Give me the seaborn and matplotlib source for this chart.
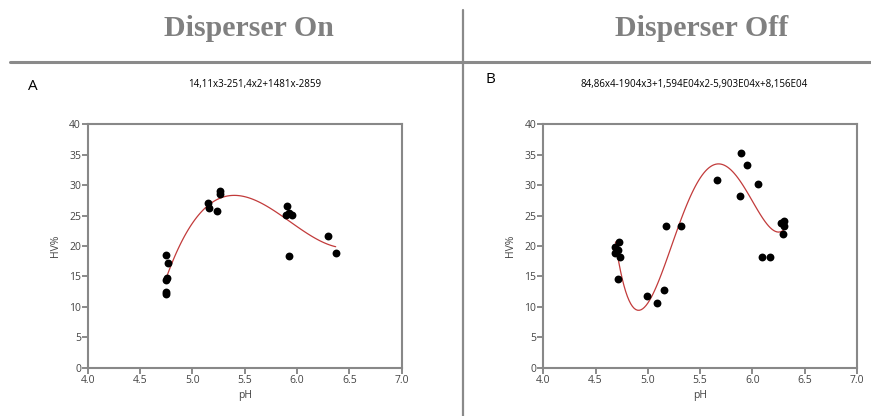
import numpy as np
import pandas as pd
import matplotlib
matplotlib.use("Agg")
import matplotlib.pyplot as plt
import seaborn as sns

# ---- data ----
ph_on = [4.745, 4.77, 4.75, 4.76, 4.745, 4.745, 5.146, 5.16, 5.235, 5.265, 5.265,
         5.90, 5.89, 5.92, 5.95, 5.92, 6.30, 6.37]
hv_on = [18.5, 17.2, 14.5, 14.7, 12.5, 12.2, 27.1, 26.3, 25.75, 29.0, 28.6,
         26.5, 25.1, 25.4, 25.1, 18.4, 21.7, 18.8]

ph_off = [4.69, 4.69, 4.725, 4.71, 4.735, 4.715, 4.993, 5.085, 5.152, 5.175, 5.315,
          5.666, 5.886, 5.893, 5.944, 6.05, 6.09, 6.164, 6.27, 6.30, 6.30, 6.29]
hv_off = [19.9, 18.9, 20.6, 19.3, 18.2, 14.6, 11.8, 10.7, 12.8, 23.2, 23.2,
          30.8, 28.2, 35.2, 33.3, 30.2, 18.2, 18.2, 23.8, 24.1, 23.3, 22.0]

headers = ["Disperser On", "Disperser Off"]
panel_labels = ["A", "B"]
equations = ["14,11x3-251,4x2+1481x-2859",
             "84,86x4-1904x3+1,594E04x2-5,903E04x+8,156E04"]
orders = [3, 4]
x_ticks = [4.0, 4.5, 5.0, 5.5, 6.0, 6.5, 7.0]
y_ticks = [0, 5, 10, 15, 20, 25, 30, 35, 40]

sns.set_style("white")
plt.rcParams['font.family'] = ['Open Sans', 'DejaVu Sans']

fig = plt.figure(figsize=(8.71, 4.16), dpi=100)

datasets = [(ph_on, hv_on), (ph_off, hv_off)]
lefts = [0.101, 0.6238]
for i, (xs, ys) in enumerate(datasets):
    df = pd.DataFrame({"pH": xs, "HV%": ys})
    ax = fig.add_axes([lefts[i], 0.1154, 0.360, 0.5865])
    sns.regplot(data=df, x="pH", y="HV%", order=orders[i], ci=None, ax=ax,
                scatter_kws=dict(s=32, color="black", alpha=1, linewidths=0, zorder=3),
                line_kws=dict(color="#c23b3b", lw=0.9, zorder=2))
    ax.set_xlim(4.0, 7.0)
    ax.set_ylim(0, 40)
    ax.set_xticks(x_ticks)
    ax.set_xticklabels([f"{t:.1f}" for t in x_ticks])
    ax.set_yticks(y_ticks)
    ax.tick_params(axis="both", which="both", direction="out", length=4, width=1.2,
                   color="#777777", labelsize=7.5, labelcolor="#444444", pad=1,
                   left=True, bottom=True)
    for s in ax.spines.values():
        s.set_color("#888888")
        s.set_linewidth(1.5)
        s.set_visible(True)
    ax.set_xlabel("pH", fontsize=7.5, color="#444444", labelpad=3)
    ax.set_ylabel("HV%", fontsize=7.5, color="#444444", labelpad=6)

# headers
fig.text(0.286, 0.932, headers[0], ha="center", va="center", fontsize=21.5,
         fontweight="bold", color="#808080", family="Liberation Serif")
fig.text(0.805, 0.932, headers[1], ha="center", va="center", fontsize=21.5,
         fontweight="bold", color="#808080", family="Liberation Serif")
# panel labels and equations
fig.text(0.038, 0.792, panel_labels[0], ha="center", va="center", fontsize=11, color="black")
fig.text(0.563, 0.81, panel_labels[1], ha="center", va="center", fontsize=11, color="black")
fig.text(0.293, 0.798, equations[0], ha="center", va="center", fontsize=7, color="black")
fig.text(0.797, 0.798, equations[1], ha="center", va="center", fontsize=7, color="black")

# separators
fig.add_artist(plt.Line2D([0.011, 1.0], [0.851, 0.851], color="#8a8a8a", lw=2.2,
                          transform=fig.transFigure))
fig.add_artist(plt.Line2D([0.5316, 0.5316], [0.0, 0.976], color="#8a8a8a", lw=1.6,
                          transform=fig.transFigure))

fig.savefig("out.png", dpi=100)
